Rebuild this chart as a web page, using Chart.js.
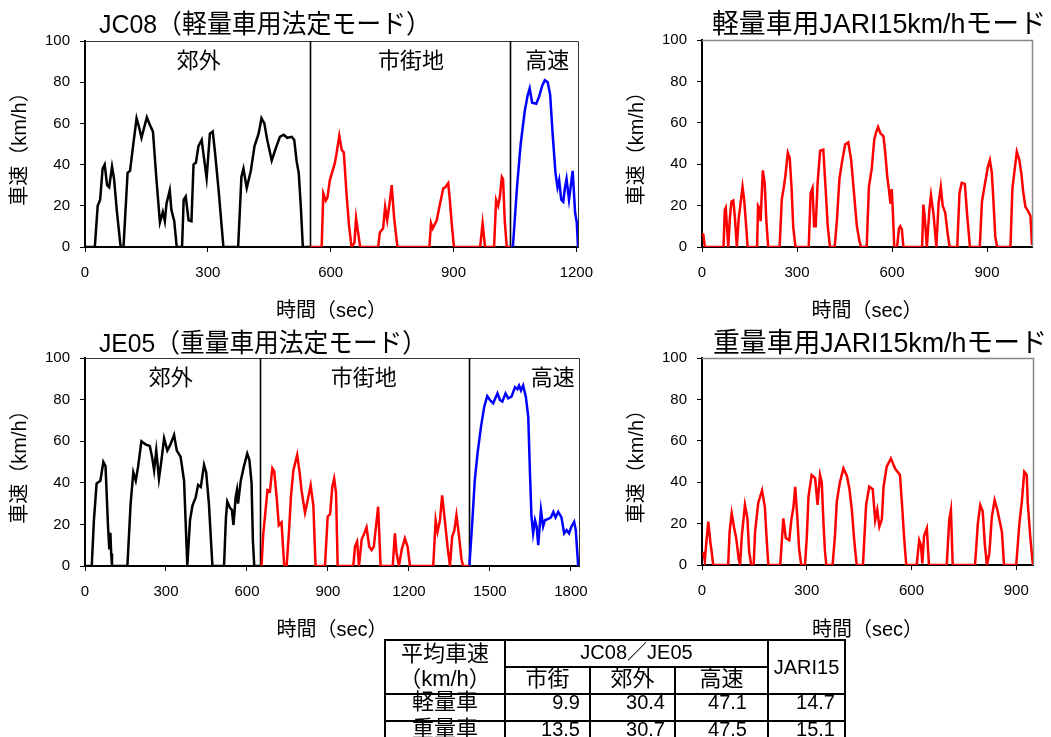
<!DOCTYPE html>
<html>
<head>
<meta charset="utf-8">
<script src="https://cdn.jsdelivr.net/npm/chart.js@4.4.1/dist/chart.umd.min.js"></script>
<style>
  html, body { margin: 0; padding: 0; background: #fff; }
  body { position: relative; width: 1051px; height: 737px; overflow: hidden; }
  canvas { position: absolute; }
  #avg { position: absolute; left: 384px; top: 639px; border-collapse: collapse; table-layout: fixed;
         font-family: 'Liberation Sans', 'Noto Sans CJK JP', sans-serif; font-size: 20px; color: #000; }
  #avg td { border: 2px solid #000; padding: 0; text-align: center; white-space: nowrap;
            vertical-align: top; line-height: 22px; }
  #avg tr { height: 27px; }
  #avg td.mid { vertical-align: middle; }
  #avg td.jp { font-size: 22px; }
  #avg td.head { font-size: 22px; line-height: 25px; }
  #avg tr.val td { line-height: 14px; }
  #avg td.n { text-align: right; padding-right: 9px; }
  #avg td.n.wide { padding-right: 20px; }
</style>
</head>
<body>
<canvas id="jc08" width="600" height="325" style="left:0;top:0"></canvas>
<canvas id="jariLight" width="451" height="325" style="left:600px;top:0"></canvas>
<canvas id="je05" width="600" height="320" style="left:0;top:325px"></canvas>
<canvas id="jariHeavy" width="451" height="320" style="left:600px;top:325px"></canvas>
<table id="avg">
  <colgroup><col style="width:120px"><col style="width:85px"><col style="width:85px"><col style="width:93px"><col style="width:77px"></colgroup>
  <tbody id="avgBody"></tbody>
</table>
<script>
// ---- Speed traces: time (s) and speed (km/h) ----
const jc08SuburbT = [0,24,31,37,43,48,54,59,66,71,78,87,94,104,110,118,126,131,138,151,157,166,174,183,190,195,199,207,211,218,224,237,241,246,253,260,265,271,277,285,290,297,305,312,318,327,338,374,382,387,395,405,414,424,431,438,445,456,466,476,485,494,505,511,517,522,527,532,550];
const jc08SuburbV = [0,0,20,23,38,40,30,29,39,33,17,0,0,36,37,50,62.5,59,53,63,60,56,34,12,17,12.5,21,27.5,18,12.5,0,0,23,24.5,13,12.5,40,41,49,52,44,33.5,55,56,45,26,0,0,34,38,28.6,37,49,55,62.5,60,52,42,48,53.5,54.5,53,53.5,52,41.4,36,20,0,0];
const jc08UrbanT = [550,578,582,588,592,598,610,614,621,627,632,639,645,651,658,662,667,672,716,720,728,733,738,745,749,755,763,841,845,849,859,867,875,880,887,891,895,901,965,971,977,999,1004,1009,1013,1018,1021,1025,1030,1039];
const jc08UrbanV = [0,0,26,22.5,24,32.5,40.6,45,54,47,46,25,10,0,2,14,7,0,0,7,9,19.5,13,23,30,14,0,0,11.5,9,13,21,28.5,29,31,23,12.7,0,0,11.5,0,0,22.8,20,24,34,33,13,0,0];
const jc08HighwayT = [1039,1045,1055,1064,1074,1081,1086,1092,1102,1109,1116,1123,1130,1136,1142,1149,1154,1158,1163,1168,1172,1176,1182,1186,1191,1197,1201,1204];
const jc08HighwayV = [0,0,29,50,66,73.5,77,70,69.5,73,78,81,80,74,55,36,29,32.5,23,22,28.5,33,23,29,37,16.5,12,0];

const jari15LightT = [0,4,9,68,72,75,80,83,88,93,99,104,110,116,121,128,133,138,144,174,177,181,185,192,198,203,209,245,252,258,263,271,277,283,288,295,337,343,349,354,359,365,373,383,390,397,404,419,426,434,442,452,462,471,480,489,497,502,520,527,536,544,550,556,563,573,579,585,590,595,599,603,607,616,622,626,631,636,695,699,703,710,718,723,731,740,747,754,760,768,776,782,806,813,820,830,837,846,877,884,894,903,909,915,920,926,932,974,980,987,994,1002,1008,1014,1021,1031,1037,1042];
const jari15LightV = [6,6,0,0,18,19,7,0,14,22,22.5,14,0,14,20,29,23,13,0,0,20,19,12.5,37,31,13,0,0,23,28.5,34,45.5,43,28,10,0,0,26,28.5,10,10,31,46.5,47,29,10,0,0,13,33,41,49.5,50.5,42,26,10,3,0,0,29,38,52,55.5,58,55,53.5,45,34,28,21,28,16,0,0,9,10,8.5,0,0,20.5,15,0,18,25,16,0,21,29,20,16.5,6,0,0,26,31,30.5,16,0,0,22,31,39,42,36,23,5,0,0,28,37,46,42,36,27,19.5,17,15,1];

const je05SuburbT = [0,25,33,43,57,68,76,85,90,94,97,100,157,169,179,188,197,209,224,240,249,256,264,274,283,293,305,315,330,340,354,367,379,389,398,410,419,429,441,449,459,472,515,522,527,537,544,550,558,563,567,577,589,601,609,617,622,627,650];
const je05SuburbV = [0,0,22,39.7,41,50,48,20,8,16,6,0,0,30,45,41,48,60,58.5,57.7,52,46,55.5,42,50.6,61.4,55.5,58,63,55.5,52.6,41,0,22,29,33,39,38,48.6,45,30,0,0,23,31,28,27,19.7,33,36.5,30,41,48,54,51,40,12,0,0];
const je05UrbanT = [650,654,660,669,676,685,694,701,710,718,728,738,747,756,763,772,786,796,802,815,825,836,846,854,889,899,908,916,923,930,936,994,1000,1008,1015,1025,1033,1043,1053,1062,1070,1078,1086,1095,1140,1148,1154,1163,1173,1185,1195,1204,1290,1299,1306,1315,1323,1333,1343,1352,1360,1368,1376,1385,1395,1401,1424];
const je05UrbanV = [0,0,15,27,36.5,35.8,47,45.5,33,19.6,21,0,0,17.3,33.6,46,53.4,44,36.5,25.6,31.6,38.8,29,0,0,23.7,25,38,42,35,0,0,9.3,11.7,0,12.8,15.2,18.6,9.3,7.7,9.3,19,28.5,0,0,15.7,6.4,0,7.7,13.3,9.3,0,0,22,16.5,22,34,22,9.3,0,14,17,24.5,15,2.9,0,0];
const je05HighwayT = [1424,1426,1435,1444,1454,1467,1479,1490,1500,1512,1528,1537,1546,1558,1568,1580,1593,1602,1608,1615,1623,1633,1642,1648,1654,1660,1667,1673,1679,1689,1697,1704,1716,1726,1735,1743,1753,1765,1775,1784,1793,1802,1812,1818,1827];
const je05HighwayV = [0,0,22,41.3,54,67,76.6,81.7,79.8,78.2,83,79.8,79,83,80.6,81.4,86,85,86.8,84.4,86.8,81.4,71.8,46,23.7,15.7,22,19,10,27,19,22,22.6,23.4,26,23.4,26,23.4,15.7,17.3,15.7,19,21.3,17.3,0];

const jari15HeavyT = [0,5,8,12,18,24,28,32,75,79,85,92,98,105,109,114,123,130,135,141,148,152,161,172,180,185,190,224,233,240,250,256,262,267,273,278,284,295,300,305,314,324,331,338,343,348,352,356,374,381,386,395,405,415,422,429,436,443,461,470,479,489,496,502,508,515,520,529,541,553,567,573,579,585,615,622,627,631,636,644,650,701,708,713,718,782,790,797,804,810,816,823,830,838,846,852,859,865,900,909,916,923,930,933,940,946,948];
const jari15HeavyV = [4.8,5.6,2,10,21,11,6,0,0,16,25,18,13,3,0,14,29,22.6,6.5,0,0,16,30,36,28,13,0,0,22.5,13,12,22,28,37.8,23,8,0,0,13,33,43.5,42,29,43.5,40,20,7,0,0,14.5,30.6,40,46.7,43,37,27,12,0,0,29,37.8,36.6,21.7,26.6,18.5,22,37.8,47.5,51.5,46.6,43.5,29,13,0,0,12,9.7,0.8,14,17.7,0,0,21.7,26.6,0,0,20,29,26,10,0,5.6,23,31.4,26.6,21.7,16,0,0,20,30.6,45,43.5,30,14,3,0];

// Section boundaries (s) and names of the statutory modes
const jc08Breaks = [550, 1039];
const je05Breaks = [650, 1424];
const sectionNames = ['郊外', '市街地', '高速'];

// Axis ranges and tick values
const jc08End = 1204, je05End = 1830, jariLightEnd = 1042, jariHeavyEnd = 948;
const timeTicks = [0, 300, 600, 900, 1200, 1500, 1800];
const speedTicks = [0, 20, 40, 60, 80, 100];

// Average speed table
const avgGroups = ['市街', '郊外', '高速'];
const avgRows = ['軽量車', '重量車'];
const lightAvg = [9.9, 30.4, 47.1, 14.7];
const heavyAvg = [13.5, 30.7, 47.5, 15.1];

const FONT = "'Liberation Sans', 'Noto Sans CJK JP', sans-serif";

// Frame, section dividers, section names and panel title
const decor = {
  id: 'decor',
  beforeDatasetsDraw(chart, _args, o) {
    const { ctx, chartArea: a, scales: { x } } = chart;
    ctx.save();
    ctx.strokeStyle = o.frameColor;
    ctx.lineWidth = o.frameWidth;
    ctx.beginPath();
    ctx.moveTo(a.left, a.top + 0.5);
    ctx.lineTo(a.right + 0.5, a.top + 0.5);
    ctx.lineTo(a.right + 0.5, a.bottom);
    ctx.stroke();
    if (o.breaks) {
      ctx.strokeStyle = '#000';
      ctx.lineWidth = 1.6;
      o.breaks.forEach(b => {
        const px = Math.round(x.getPixelForValue(b)) + 0.5;
        ctx.beginPath();
        ctx.moveTo(px, a.top);
        ctx.lineTo(px, a.bottom);
        ctx.stroke();
      });
      ctx.fillStyle = '#000';
      ctx.font = '22px ' + FONT;
      ctx.textAlign = 'center';
      ctx.textBaseline = 'middle';
      sectionNames.forEach((s, i) => ctx.fillText(s, x.getPixelForValue(o.sectionAt[i]), a.top + 21));
    }
    ctx.restore();
  },
  afterDraw(chart, _args, o) {
    const { ctx } = chart;
    ctx.save();
    ctx.fillStyle = '#000';
    ctx.font = o.titleSize + 'px ' + FONT;
    ctx.textAlign = 'left';
    ctx.textBaseline = 'alphabetic';
    ctx.fillText(o.title, o.titleX, o.titleY, o.titleWidth);
    ctx.restore();
  }
};

function series(t, v, color) {
  return {
    data: t.map((tt, i) => ({ x: tt, y: v[i] })),
    borderColor: color, borderWidth: 2.5, pointRadius: 0, tension: 0, fill: false
  };
}

function fixedTicks(values) {
  return s => { s.ticks = values.filter(v => v >= s.min && v <= s.max).map(v => ({ value: v })); };
}

function panel(id, p) {
  new Chart(document.getElementById(id), {
    type: 'line',
    data: { datasets: p.series },
    options: {
      responsive: false, animation: false, devicePixelRatio: 1,
      layout: { padding: p.pad },
      plugins: { legend: { display: false }, tooltip: { enabled: false }, decor: p.decor },
      scales: {
        x: {
          type: 'linear', min: 0, max: p.xMax,
          afterBuildTicks: fixedTicks(timeTicks),
          ticks: { padding: 12, maxRotation: 0, autoSkip: false, color: '#000',
                   font: { family: FONT, size: 15 }, callback: v => String(v) },
          grid: { drawOnChartArea: false, drawTicks: true, tickLength: 5, tickColor: '#000', tickWidth: 1 },
          border: { display: true, color: '#000', width: 2 },
          title: { display: true, text: '時間（sec）', color: '#000', font: { family: FONT, size: 20 },
                   padding: { top: 0, bottom: p.xTitlePad } },
          afterFit(s) { s.height = p.xH; s.paddingLeft = 0; s.paddingRight = 0; }
        },
        y: {
          min: 0, max: 100,
          afterBuildTicks: fixedTicks(speedTicks),
          ticks: { padding: 10, color: '#000', font: { family: FONT, size: 15 }, callback: v => String(v) },
          grid: { drawOnChartArea: false, drawTicks: true, tickLength: 5, tickColor: '#000', tickWidth: 1 },
          border: { display: true, color: '#000', width: 2 },
          title: { display: true, text: '車速（km/h）', color: '#000', font: { family: FONT, size: 20 },
                   padding: { top: p.yTitlePad, bottom: 0 } },
          afterFit(s) { s.width = p.yW; s.paddingTop = 0; s.paddingBottom = 0; }
        }
      }
    },
    plugins: [decor]
  });
}

panel('jc08', {
  xMax: jc08End, pad: { left: 0, top: 41, right: 22, bottom: 0 }, xH: 78, yW: 85, xTitlePad: 2, yTitlePad: 8,
  series: [series(jc08SuburbT, jc08SuburbV, '#000000'), series(jc08UrbanT, jc08UrbanV, '#ff0000'), series(jc08HighwayT, jc08HighwayV, '#0000ff')],
  decor: { frameColor: '#333', frameWidth: 1, breaks: jc08Breaks, sectionAt: [278, 796, 1129],
           title: 'JC08（軽量車用法定モード）', titleX: 99, titleY: 33, titleSize: 26, titleWidth: 332 }
});

panel('jariLight', {
  xMax: jariLightEnd, pad: { left: 0, top: 40, right: 19, bottom: 0 }, xH: 78, yW: 102, xTitlePad: 1.5, yTitlePad: 25.5,
  series: [series(jari15LightT, jari15LightV, '#ff0000')],
  decor: { frameColor: '#888', frameWidth: 1.5,
           title: '軽量車用JARI15km/hモード', titleX: 112, titleY: 33, titleSize: 27, titleWidth: 334 }
});

panel('je05', {
  xMax: je05End, pad: { left: 0, top: 33, right: 21, bottom: 0 }, xH: 79, yW: 85, xTitlePad: 3, yTitlePad: 8,
  series: [series(je05SuburbT, je05SuburbV, '#000000'), series(je05UrbanT, je05UrbanV, '#ff0000'), series(je05HighwayT, je05HighwayV, '#0000ff')],
  decor: { frameColor: '#333', frameWidth: 1, breaks: je05Breaks, sectionAt: [318, 1033, 1733],
           title: 'JE05（重量車用法定モード）', titleX: 99, titleY: 27, titleSize: 26, titleWidth: 328 }
});

panel('jariHeavy', {
  xMax: jariHeavyEnd, pad: { left: 0, top: 33, right: 18, bottom: 0 }, xH: 80, yW: 102, xTitlePad: 3, yTitlePad: 25.5,
  series: [series(jari15HeavyT, jari15HeavyV, '#ff0000')],
  decor: { frameColor: '#888', frameWidth: 1.5,
           title: '重量車用JARI15km/hモード', titleX: 113, titleY: 27, titleSize: 27, titleWidth: 334 }
});

// Average speed table
(function buildTable() {
  const body = document.getElementById('avgBody');
  let html = '<tr><td rowspan="2" class="head">平均車速<br>（km/h）</td><td colspan="3">JC08／JE05</td><td rowspan="2" class="mid">JARI15</td></tr>';
  html += '<tr>' + avgGroups.map(g => '<td class="jp">' + g + '</td>').join('') + '</tr>';
  [lightAvg, heavyAvg].forEach((vals, r) => {
    html += '<tr class="val"><td class="jp">' + avgRows[r] + '</td>' +
      vals.map((v, i) => '<td class="n' + (i === 2 ? ' wide' : '') + '">' + v.toFixed(1) + '</td>').join('') + '</tr>';
  });
  body.innerHTML = html;
})();
</script>
</body>
</html>
